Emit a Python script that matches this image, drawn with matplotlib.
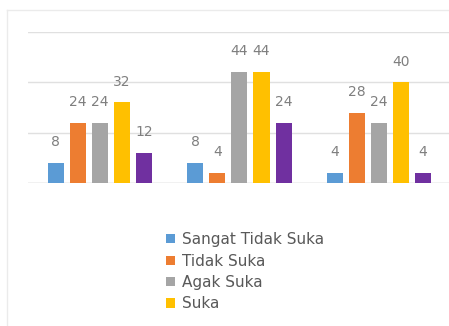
import matplotlib
matplotlib.use('Agg')
import matplotlib.pyplot as plt
from matplotlib.lines import Line2D
import numpy as np

# Data
series_names = ["Sangat Tidak Suka", "Tidak Suka", "Agak Suka", "Suka", "Sangat Suka"]
group1 = [8, 24, 24, 32, 12]
group2 = [8, 4, 44, 44, 24]
group3 = [4, 28, 24, 40, 4]
colors = ["#5B9BD5", "#ED7D31", "#A5A5A5", "#FFC000", "#7030A0"]

W, H = 449, 326
fig = plt.figure(figsize=(W / 100, H / 100), dpi=100)

# Faint chart-area border (top and left, rest is cut off)
fig.add_artist(Line2D([7 / W, 1], [1 - 10 / H, 1 - 10 / H], color="#EBEBEB", lw=1))
fig.add_artist(Line2D([7 / W, 7 / W], [0, 1 - 10 / H], color="#EBEBEB", lw=1))

ax = fig.add_axes([28 / W, 1 - 183 / H, 421 / W, 151 / H])

groups = np.array([group1, group2, group3])
x = np.arange(len(groups))
slot = 0.158
width = 0.115
text_color = "#7F7F7F"

for i in range(len(series_names)):
  offs = (i - 2) * slot
  vals = groups[:, i]
  label = series_names[i] if i < 4 else "_nolegend_"
  bars = ax.bar(x + offs, vals, width=width, color=colors[i], label=label, zorder=3)
  for b, v in zip(bars, vals):
    ax.annotate(str(v), (b.get_x() + b.get_width() / 2, v), xytext=(0, 15),
                textcoords="offset points", ha="center", va="center",
                fontsize=10, color=text_color)

ax.set_xlim(-0.516, 2.502)
ax.set_ylim(0, 60)
ax.set_yticks([0, 20, 40, 60])
ax.yaxis.grid(True, color="#E0E0E0", lw=1, zorder=0)
ax.axhline(0, color="#D9D9D9", lw=1, zorder=2)
ax.set_xticks([])
ax.tick_params(left=False, labelleft=False)
for s in ax.spines.values():
  s.set_visible(False)

handles, labels = ax.get_legend_handles_labels()
leg = fig.legend(handles, labels, loc="upper left", bbox_to_anchor=(160 / W, 1 - 226 / H),
                 frameon=False, fontsize=11, handlelength=0.55, handleheight=0.55,
                 handletextpad=0.5, labelspacing=0.42, borderaxespad=0)
for t in leg.get_texts():
  t.set_color("#595959")

fig.savefig("out.png", dpi=100)
